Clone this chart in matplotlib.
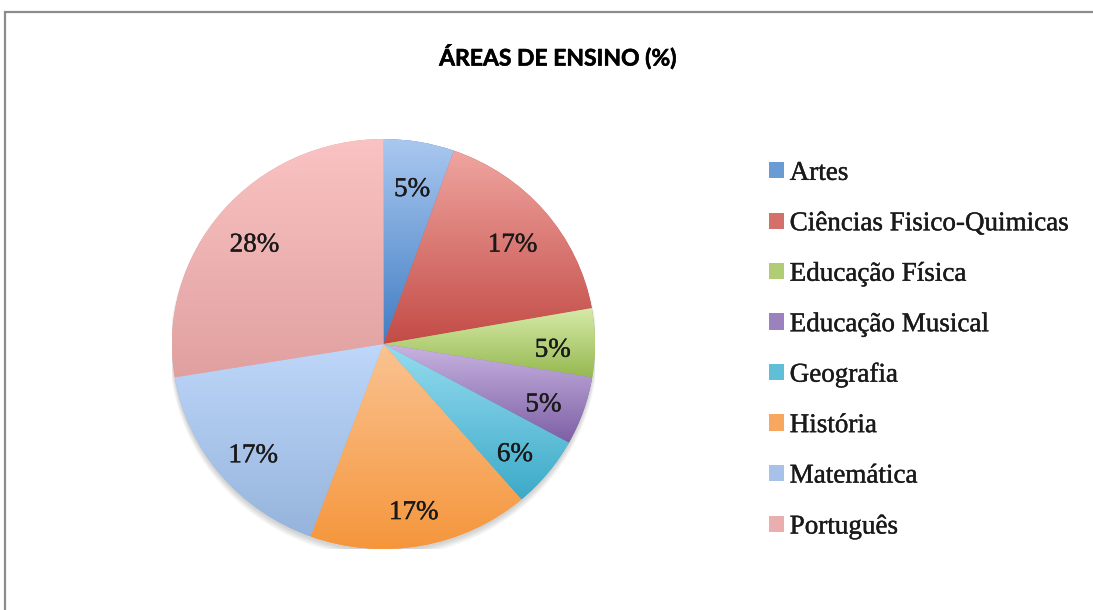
import matplotlib
matplotlib.use("Agg")
import matplotlib.pyplot as plt
import matplotlib.patheffects as pe
import numpy as np
from matplotlib.colors import to_rgb
from matplotlib.patches import Patch, Rectangle, Ellipse

# data
categories = ['Artes', 'Ciências Fisico-Quimicas', 'Educação Física', 'Educação Musical',
              'Geografia', 'História', 'Matemática', 'Português']
values = [5.4, 16.8, 5.4, 5.4, 5.7, 16.9, 16.8, 27.6]

# light (top) / dark (bottom) shades for the gradient fills
light = ['#AAC8F0', '#F0A5A0', '#D7EBAA', '#C8B4E1', '#96DCF0', '#FAC391', '#BED7FA', '#FAC3C3']
dark = ['#417DC3', '#C34B46', '#96B950', '#7D5FA5', '#3CAAC8', '#F5963C', '#96B4DC', '#E1A0A0']

W, H = 1093, 610
fig = plt.figure(figsize=(W / 100, H / 100), dpi=100)

# chart border
fig.patches.append(Rectangle((5 / W, -0.05), 1.1, 1.05 - 12 / H, transform=fig.transFigure,
                             fill=False, edgecolor='#8c8c8c', linewidth=1.6))

cx, cy, rx, ry = 383.5, 344, 211.5, 205
ax = fig.add_axes([(cx - rx) / W, (H - cy - ry) / H, 2 * rx / W, 2 * ry / H])

thick = [pe.withStroke(linewidth=0.3, foreground='#1a1a1a')]
wedges, texts, autotexts = ax.pie(values, startangle=90, counterclock=False,
                                  autopct='%.0f%%', pctdistance=0.8,
                                  textprops={'family': 'Liberation Serif', 'fontsize': 19.5,
                                             'color': '#1a1a1a', 'path_effects': thick})

# soft shadow under the pie
for k in range(5):
    ax.add_patch(Ellipse((0, -0.012 - 0.004 * k), 2.0 + 0.006 * k, 2.0 + 0.006 * k,
                         facecolor='#000000', alpha=0.035, edgecolor='none', zorder=0))

for w, c0, c1 in zip(wedges, light, dark):
    w.set_facecolor(c1)
    w.set_edgecolor('none')
    ext = w.get_path().get_extents()
    a, b = np.array(to_rgb(c0)), np.array(to_rgb(c1))
    t = np.linspace(0, 1, 256)[:, None]
    grad = (a * (1 - t) + b * t)[:, None, :]
    im = ax.imshow(grad, extent=(ext.x0, ext.x1, ext.y0, ext.y1), origin='upper',
                   aspect='auto', interpolation='bilinear', zorder=w.get_zorder())
    im.set_clip_path(w)

for t in autotexts:
    x, y = t.get_position()
    t.set_position((x, y - 0.035))
    t.set_zorder(5)

ax.set_xlim(-1, 1)
ax.set_ylim(-1, 1)
ax.set_aspect('auto')
ax.axis('off')

fig.text(558 / W, 1 - 57 / H, 'ÁREAS DE ENSINO (%)', ha='center', va='center',
         fontsize=16.5, fontweight='bold', family='Lato', color='#000000',
         path_effects=[pe.withStroke(linewidth=0.4, foreground='#000000')])

mid = [tuple((np.array(to_rgb(a)) * 0.4 + np.array(to_rgb(b)) * 0.6)) for a, b in zip(light, dark)]
handles = [Patch(facecolor=m, edgecolor='none') for m in mid]
fig.legend(handles, categories, loc='upper left', bbox_to_anchor=(758 / W, 1 - 150 / H),
           frameon=False, prop={'family': 'Liberation Serif', 'size': 19.5},
           handlelength=0.55, handleheight=0.55, handletextpad=0.22,
           labelspacing=0.94, borderaxespad=0, labelcolor='#1a1a1a')
for t in fig.legends[0].get_texts():
    t.set_path_effects(thick)

fig.savefig('out.png', dpi=100)
